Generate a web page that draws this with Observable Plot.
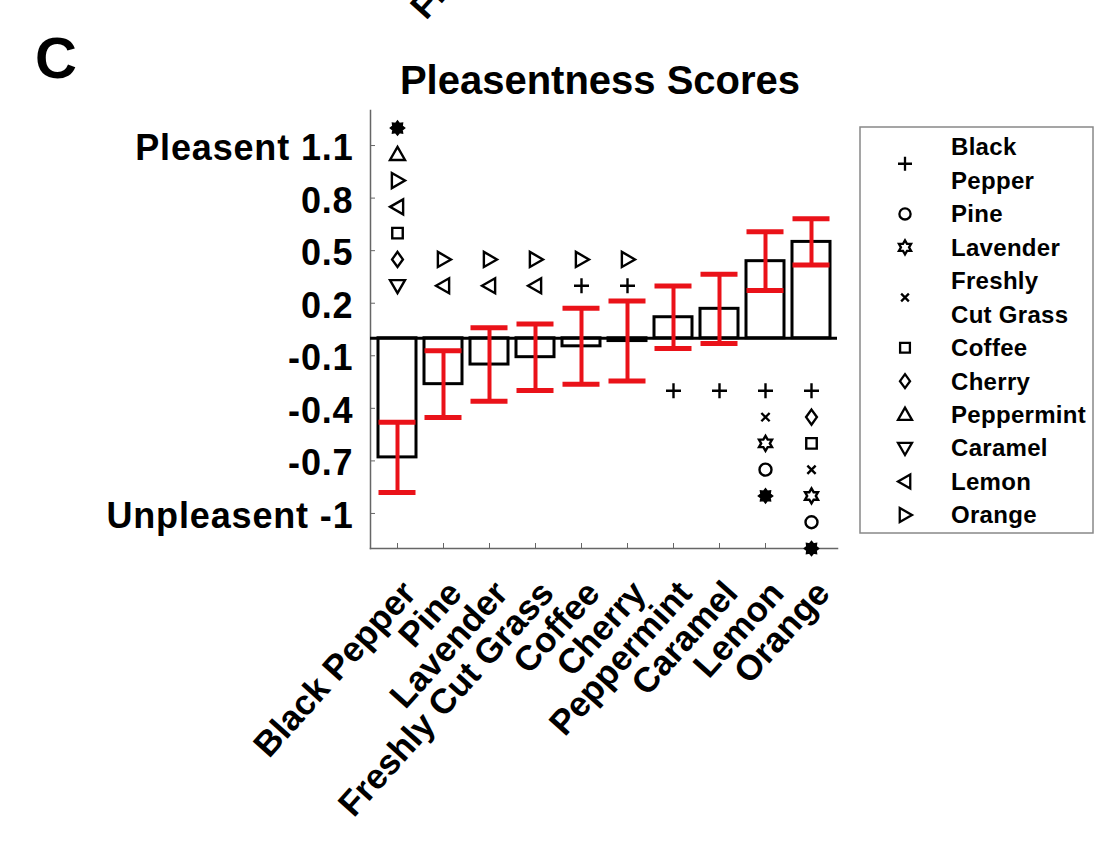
<!DOCTYPE html>
<html>
<head>
<meta charset="utf-8">
<script src="https://cdn.jsdelivr.net/npm/d3@7"></script>
<script src="https://cdn.jsdelivr.net/npm/@observablehq/plot@0.6"></script>
<style>
  html, body { margin: 0; padding: 0; background: #fff; }
  #chart svg { display: block; }
</style>
</head>
<body>
<div id="chart"></div>
<script>
// Odors, ordered by mean pleasantness
const odors = ["Black Pepper", "Pine", "Lavender", "Freshly Cut Grass", "Coffee",
               "Cherry", "Peppermint", "Caramel", "Lemon", "Orange"];
// Mean pleasantness score and its standard error
const meanScore = [-0.68, -0.262, -0.15, -0.108, -0.046, -0.016, 0.12, 0.168, 0.44, 0.55];
const semScore  = [0.20, 0.19, 0.21, 0.19, 0.217, 0.228, 0.178, 0.198, 0.168, 0.132];

// Y axis ticks and their labels
const yTickValues = [-1, -0.7, -0.4, -0.1, 0.2, 0.5, 0.8, 1.1];
const yTickLabels = ["Unpleasent -1", "-0.7", "-0.4", "-0.1", "0.2", "0.5", "0.8", "Pleasent 1.1"];

// Marker used for each odor in the significance legend
const odorMarker = ["plus", "circle", "hexagram", "times", "square",
                    "diamond", "triUp", "triDown", "triLeft", "triRight"];
const legendLines = [["Black", "Pepper"], ["Pine"], ["Lavender"], ["Freshly", "Cut Grass"], ["Coffee"],
                     ["Cherry"], ["Peppermint"], ["Caramel"], ["Lemon"], ["Orange"]];

// Significant differences, stacked outward from the bar ("*" = filled marker)
const sigAbove = [
  ["Caramel", "Cherry", "Coffee", "Lemon", "Orange", "Peppermint", "*"],
  ["Lemon", "Orange"],
  ["Lemon", "Orange"],
  ["Lemon", "Orange"],
  ["Black Pepper", "Orange"],
  ["Black Pepper", "Orange"],
  [], [], [], []
];
const sigBelow = [
  [], [], [], [], [], [],
  ["Black Pepper"],
  ["Black Pepper"],
  ["Black Pepper", "Freshly Cut Grass", "Lavender", "Pine", "*"],
  ["Black Pepper", "Cherry", "Coffee", "Freshly Cut Grass", "Lavender", "Pine", "*"]
];
const markerStart = 0.3;
const markerStep = 0.15;

const RED = "#ea1219";
const FONT = "'Liberation Sans', Arial, Helvetica, sans-serif";

// Custom marker shapes (d3-symbol compatible)
const shape = (fn) => ({ draw(c, size) { fn(c, Math.sqrt(size / Math.PI)); } });
const markers = {
  plus: shape((c, r) => { c.moveTo(-r, 0); c.lineTo(r, 0); c.moveTo(0, -r); c.lineTo(0, r); }),
  circle: shape((c, r) => { const a = r * 0.8; c.moveTo(a, 0); c.arc(0, 0, a, 0, 2 * Math.PI); }),
  hexagram: shape((c, r) => {
    for (let k = 0; k < 12; k++) {
      const ang = -Math.PI / 2 + k * Math.PI / 6;
      const rad = k % 2 === 0 ? r : r / Math.sqrt(3);
      const x = rad * Math.cos(ang), y = rad * Math.sin(ang);
      if (k) c.lineTo(x, y); else c.moveTo(x, y);
    }
    c.closePath();
  }),
  times: shape((c, r) => { const a = r * 0.55; c.moveTo(-a, -a); c.lineTo(a, a); c.moveTo(a, -a); c.lineTo(-a, a); }),
  square: shape((c, r) => { const a = r * 0.7; c.moveTo(-a, -a); c.lineTo(a, -a); c.lineTo(a, a); c.lineTo(-a, a); c.closePath(); }),
  diamond: shape((c, r) => { c.moveTo(0, -r); c.lineTo(0.72 * r, 0); c.lineTo(0, r); c.lineTo(-0.72 * r, 0); c.closePath(); }),
  triUp: shape((c, r) => { c.moveTo(0, -r); c.lineTo(r, 0.75 * r); c.lineTo(-r, 0.75 * r); c.closePath(); }),
  triDown: shape((c, r) => { c.moveTo(0, r); c.lineTo(r, -0.75 * r); c.lineTo(-r, -0.75 * r); c.closePath(); }),
  triLeft: shape((c, r) => { c.moveTo(-r, 0); c.lineTo(0.75 * r, -r); c.lineTo(0.75 * r, r); c.closePath(); }),
  triRight: shape((c, r) => { c.moveTo(r, 0); c.lineTo(-0.75 * r, -r); c.lineTo(-0.75 * r, r); c.closePath(); }),
  burst: shape((c, r) => {
    for (let k = 0; k < 16; k++) {
      const ang = k * Math.PI / 8;
      const rad = k % 2 === 0 ? r * 0.85 : r * 0.6;
      const x = rad * Math.cos(ang), y = rad * Math.sin(ang);
      if (k) c.lineTo(x, y); else c.moveTo(x, y);
    }
    c.closePath();
  })
};
const markerFor = (name) => name === "*" ? "burst" : odorMarker[odors.indexOf(name)];

// Tables built from the arrays above
const table = odors.map((odor, i) => ({
  odor, mean: meanScore[i], lo: meanScore[i] - semScore[i], hi: meanScore[i] + semScore[i]
}));
const sigMarks = [];
odors.forEach((odor, i) => {
  sigAbove[i].forEach((name, k) => sigMarks.push({ odor, y: markerStart + k * markerStep, key: markerFor(name) }));
  sigBelow[i].forEach((name, k) => sigMarks.push({ odor, y: -(markerStart + k * markerStep), key: markerFor(name) }));
});

const markerDots = Object.keys(markers).map((key) =>
  Plot.dot(sigMarks.filter((d) => d.key === key), {
    x: "odor", y: "y", symbol: markers[key], r: 7.5,
    stroke: "black", strokeWidth: 2.4, fill: key === "burst" ? "black" : "none"
  })
);

const chart = Plot.plot({
  width: 1096,
  height: 853,
  marginLeft: 370,
  marginRight: 259,
  marginTop: 110,
  marginBottom: 305,
  style: { fontFamily: FONT, background: "white", color: "black" },
  x: { domain: odors, padding: 0, axis: null, label: null },
  y: { domain: [-1.2, 1.3], axis: null, label: null },
  marks: [
    // axis lines
    Plot.frame({ anchor: "left", stroke: "#666", strokeWidth: 1.5 }),
    Plot.frame({ anchor: "bottom", stroke: "#666", strokeWidth: 1.5 }),
    // inward tick marks
    Plot.axisY({ ticks: yTickValues, tickSize: 5, dx: 5, tickFormat: () => "", stroke: "#666", label: null }),
    Plot.axisX({ tickSize: 5, dy: -5, tickFormat: () => "", stroke: "#666", label: null }),
    // tick labels
    Plot.text(yTickValues, {
      y: (d) => d, frameAnchor: "left", dx: -17, dy: 3, textAnchor: "end",
      text: (d, i) => yTickLabels[i], fontSize: 36, fontWeight: "bold", fill: "black"
    }),
    Plot.text(odors, {
      x: (d) => d, frameAnchor: "bottom", rotate: -48, textAnchor: "end",
      dx: 20, dy: 46, fontSize: 35, fontWeight: "bold", fill: "black"
    }),
    // bars
    Plot.barY(table, {
      x: "odor", y: "mean", fill: "white", stroke: "black", strokeWidth: 3,
      insetLeft: 4, insetRight: 4
    }),
    Plot.ruleY([0], { stroke: "black", strokeWidth: 3 }),
    // standard error bars
    Plot.ruleX(table, { x: "odor", y1: "lo", y2: "hi", stroke: RED, strokeWidth: 4 }),
    Plot.tickY(table, { x: "odor", y: "lo", stroke: RED, strokeWidth: 5, insetLeft: 4.5, insetRight: 4.5 }),
    Plot.tickY(table, { x: "odor", y: "hi", stroke: RED, strokeWidth: 5, insetLeft: 4.5, insetRight: 4.5 }),
    // significance markers
    ...markerDots
  ]
});

document.getElementById("chart").appendChild(chart);

// Slightly wider spacing for the y tick labels
const svg = d3.select(chart);
svg.selectAll("text")
  .filter(function () { return yTickLabels.includes(this.textContent); })
  .attr("letter-spacing", "0.85px");

// Panel letter, title, neighbouring panel label and legend
svg.append("text").attr("x", 35).attr("y", 78).attr("text-anchor", "start")
  .attr("font-family", FONT).attr("font-weight", "bold").attr("font-size", 58)
  .text("C");
svg.append("text").attr("x", 600).attr("y", 94).attr("text-anchor", "middle")
  .attr("font-family", FONT).attr("font-weight", "bold").attr("font-size", 40)
  .text("Pleasentness Scores");
svg.append("text").attr("transform", "translate(426,21) rotate(-48)").attr("text-anchor", "start")
  .attr("font-family", FONT).attr("font-weight", "bold").attr("font-size", 35)
  .text("Freshly Cut Grass");

const legend = svg.append("g").attr("text-anchor", "start");
legend.append("rect").attr("x", 860).attr("y", 127).attr("width", 233).attr("height", 406)
  .attr("fill", "white").attr("stroke", "#888").attr("stroke-width", 1.5);
const lineH = 33.45;
let row = 0;
odors.forEach((odor, i) => {
  const lines = legendLines[i];
  const ys = lines.map((_, k) => 147 + (row + k) * lineH);
  const ym = d3.mean(ys);
  legend.append("path")
    .attr("transform", `translate(905,${ym})`)
    .attr("d", d3.symbol(markers[odorMarker[i]], Math.PI * 7 * 7)())
    .attr("fill", "none").attr("stroke", "black").attr("stroke-width", 2.3);
  lines.forEach((t, k) => {
    legend.append("text").attr("x", 951).attr("y", ys[k]).attr("dy", "0.35em")
      .attr("font-family", FONT).attr("font-weight", "bold").attr("font-size", 24)
      .attr("letter-spacing", "0.3px")
      .text(t);
  });
  row += lines.length;
});
</script>
</body>
</html>
